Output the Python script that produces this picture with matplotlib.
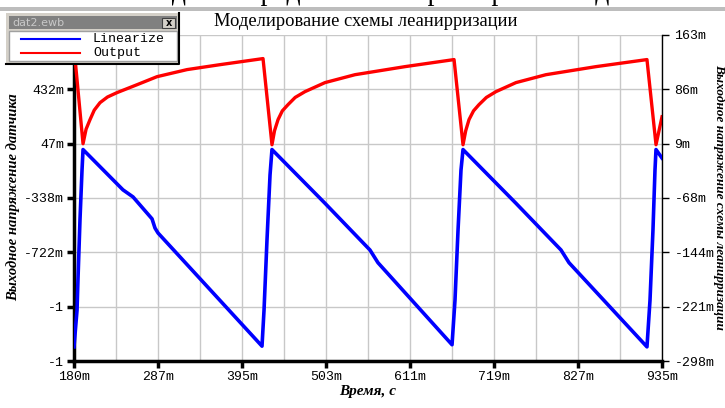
import numpy as np
import matplotlib

matplotlib.use("Agg")
import matplotlib.pyplot as plt
from matplotlib.patches import Rectangle

# time in ms, voltages in V
output_t = [180, 191.6, 195.5, 200.5, 206.0, 213.4, 223.0, 235.2, 260.9, 286.6, 325.1, 367.5, 422.7,
            434.2, 437.5, 442.0, 447.5, 454.8, 464.0, 476.6, 502.3, 540.8, 605.0, 668.0,
            679.5, 683.0, 687.2, 693.0, 700.0, 709.5, 721.8, 747.5, 786.0, 850.2, 915.7,
            927.3, 935.0]
output_v = [0.728, 0.047, 0.150, 0.217, 0.285, 0.338, 0.378, 0.409, 0.465, 0.522, 0.572, 0.607, 0.650,
            0.040, 0.140, 0.218, 0.280, 0.324, 0.375, 0.416, 0.480, 0.536, 0.593, 0.643,
            0.040, 0.140, 0.218, 0.280, 0.324, 0.375, 0.416, 0.480, 0.536, 0.593, 0.643,
            0.040, 0.238]

linear_t = [180, 183.9, 185.1, 187.7, 190.3, 191.6, 242.9, 255.8, 280.2, 284.0, 287.9, 421.4,
            424.0, 427.8, 431.7, 434.2, 502.3, 560.0, 570.3, 665.4,
            669.2, 673.1, 676.9, 679.5, 747.5, 805.3, 815.6, 915.7,
            919.6, 923.4, 926.0, 927.3, 935.0]
linear_v = [-0.278, -0.226, -0.183, -0.098, -0.028, 0.001, -0.056, -0.066, -0.097, -0.110, -0.117, -0.277,
            -0.226, -0.127, -0.035, 0.001, -0.075, -0.141, -0.159, -0.275,
            -0.212, -0.113, -0.028, 0.001, -0.075, -0.141, -0.159, -0.278,
            -0.212, -0.113, -0.028, 0.001, -0.011]

x_ticks = np.linspace(180, 935, 8)
x_labels = ["180m", "287m", "395m", "503m", "611m", "719m", "827m", "935m"]
left_ticks = np.linspace(-1.491, 0.817, 7)
left_labels = ["-1", "-1", "-722m", "-338m", "47m", "432m", "817m"]
right_ticks = np.linspace(-0.298, 0.163, 7)
right_labels = ["-298m", "-221m", "-144m", "-68m", "9m", "86m", "163m"]

title = "Моделирование схемы леанирризации"
left_title = "Выходное напряжение датчика"
right_title = "Выходное напряжение схемы леанирризации"
x_title = "Время, с"
header = "Решение задачи передаточной характеристики датчика"

W, H = 725, 408
fig = plt.figure(figsize=(W / 100, H / 100), dpi=100)
fig.patch.set_facecolor("white")

ax = fig.add_axes([74 / W, 1 - 361 / H, 588 / W, 326 / H])
ax2 = ax.twinx()

ax.plot(output_t, output_v, color="#ff0000", lw=2.4, zorder=3)
ax2.plot(linear_t, linear_v, color="#0000ff", lw=2.6, zorder=3)

ax.set_xlim(180, 935)
ax.set_ylim(left_ticks[0], left_ticks[-1])
ax2.set_ylim(right_ticks[0], right_ticks[-1])

ax.set_xticks(x_ticks)
ax.set_xticklabels(x_labels)
ax.set_xticks((x_ticks[:-1] + x_ticks[1:]) / 2, minor=True)
ax.set_yticks(left_ticks)
ax.set_yticklabels(left_labels)
ax2.set_yticks(right_ticks)
ax2.set_yticklabels(right_labels)

ax.grid(True, which="both", axis="x", color="#c8c8c8", lw=1)
ax.grid(True, which="major", axis="y", color="#c8c8c8", lw=1)
ax.set_axisbelow(True)

for s in ["top", "right"]:
    ax.spines[s].set_visible(False)
for s in ["top", "left", "bottom"]:
    ax2.spines[s].set_visible(False)
ax.spines["left"].set_linewidth(2.5)
ax.spines["bottom"].set_linewidth(2.5)
ax2.spines["right"].set_linewidth(1)

mono = "Liberation Mono"
ax.tick_params(axis="both", which="major", direction="out", length=5, width=2.5,
               labelsize=9.5, pad=2)
ax.tick_params(axis="x", which="minor", length=0)
ax2.tick_params(axis="y", direction="out", length=5, width=1, labelsize=9.5, pad=4)
for lab in ax.get_xticklabels() + ax.get_yticklabels() + ax2.get_yticklabels():
    lab.set_fontfamily(mono)

serif = "Liberation Serif"
fig.text(366 / W, 1 - 22 / H, title, ha="center", va="center", fontsize=13.3, family=serif)
fig.text(13 / W, 1 - 197 / H, left_title, rotation=90, ha="center", va="center",
         fontsize=10.5, family=serif, weight="bold", style="italic")
fig.text(719 / W, 1 - 197 / H, right_title, rotation=270, ha="center", va="center",
         fontsize=9.5, family=serif, weight="bold", style="italic")
fig.text(368 / W, 1 - 391 / H, x_title, ha="center", va="center",
         fontsize=11, family=serif, weight="bold", style="italic")

# overlay in pixel coords for the screenshot chrome
ov = fig.add_axes([0, 0, 1, 1], zorder=10)
ov.set_xlim(0, W)
ov.set_ylim(H, 0)
ov.axis("off")
ov.patch.set_visible(False)

ov.add_patch(Rectangle((0, 7), W, 4, facecolor="#bdbdbd", edgecolor="none"))
# document text above the chart, cropped by the screenshot edge
ov.text(W / 2, 0.5, header, ha="center", va="baseline", fontsize=20, family=serif)

ov.add_patch(Rectangle((6, 13), 174, 51, facecolor="#d4d0c8", edgecolor="none"))
ov.plot([179, 179, 6], [13, 63.5, 63.5], color="black", lw=1.5)
ov.add_patch(Rectangle((9, 16), 168, 13, facecolor="#808080", edgecolor="none"))
ov.text(12, 22.5, "dat2.ewb", ha="left", va="center", fontsize=8, color="#c8c8c8",
        family="DejaVu Sans")
ov.add_patch(Rectangle((162, 18), 13, 9.5, facecolor="#d4d0c8", edgecolor="#404040", lw=0.8))
ov.text(168.5, 22.8, "x", ha="center", va="center", fontsize=7, weight="bold",
        family="DejaVu Sans")
ov.add_patch(Rectangle((9, 31), 168, 30, facecolor="white", edgecolor="#a0a0a0", lw=1))
ov.plot([21, 80], [39, 39], color="#0000ff", lw=1.5)
ov.plot([21, 80], [53, 53], color="#ff0000", lw=1.5)
ov.text(93, 39, "Linearize", ha="left", va="center", fontsize=9.5, family=mono)
ov.text(93, 53, "Output", ha="left", va="center", fontsize=9.5, family=mono)

fig.savefig("out.png", dpi=100)
